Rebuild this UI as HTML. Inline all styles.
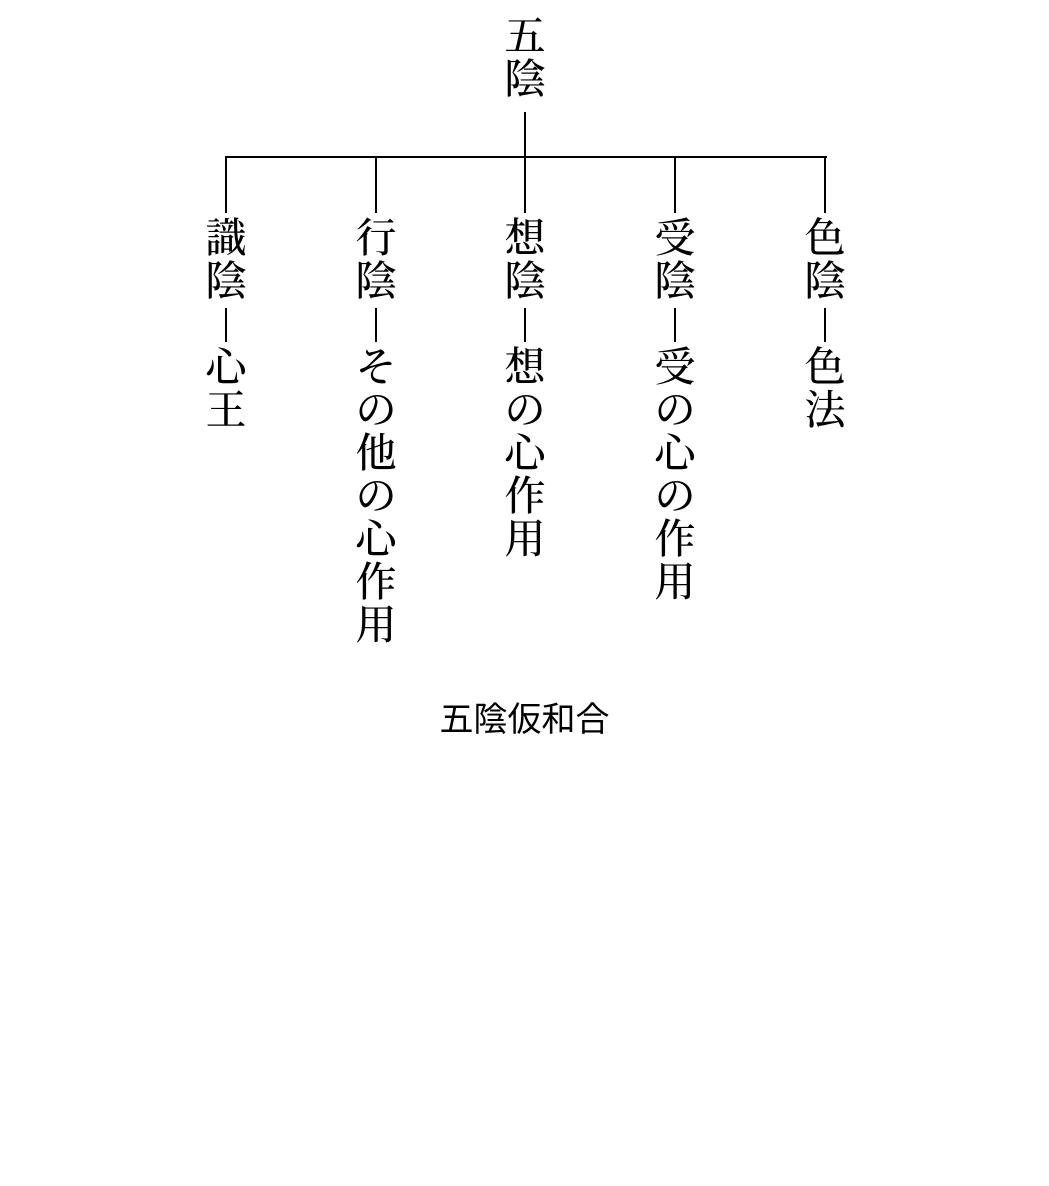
<!DOCTYPE html>
<html><head><meta charset="utf-8"><style>
html,body{margin:0;padding:0;background:#fff;}
body{width:1049px;height:1186px;position:relative;overflow:hidden;font-family:"Liberation Serif","Noto Serif CJK JP","Noto Serif CJK SC",serif;color:#000;}
.col{position:absolute;width:60px;text-align:center;font-size:41px;line-height:43px;font-weight:500;}
.l{position:absolute;background:#000;}
.cap{position:absolute;left:0;width:1049px;top:700px;text-align:center;font-size:34px;line-height:40px;font-family:"Liberation Sans","Noto Sans CJK JP",sans-serif;}
</style></head><body>
<div class="col" style="left:495px;top:15px">五<br>陰</div>
<div class="l" style="left:524px;top:112px;width:2px;height:46px"></div>
<div class="l" style="left:225px;top:156px;width:602px;height:2px"></div>
<div class="l" style="left:225px;top:156px;width:2px;height:57px"></div>
<div class="l" style="left:375px;top:156px;width:2px;height:57px"></div>
<div class="l" style="left:524px;top:156px;width:2px;height:57px"></div>
<div class="l" style="left:674px;top:156px;width:2px;height:57px"></div>
<div class="l" style="left:824px;top:156px;width:2px;height:57px"></div>

<div class="col" style="left:196px;top:217px">識<br>陰<br>&nbsp;<br>心<br>王</div>
<div class="l" style="left:225px;top:308px;width:2px;height:34px"></div>

<div class="col" style="left:346px;top:217px">行<br>陰<br>&nbsp;<br>そ<br>の<br>他<br>の<br>心<br>作<br>用</div>
<div class="l" style="left:375px;top:308px;width:2px;height:34px"></div>

<div class="col" style="left:495px;top:217px">想<br>陰<br>&nbsp;<br>想<br>の<br>心<br>作<br>用</div>
<div class="l" style="left:524px;top:308px;width:2px;height:34px"></div>

<div class="col" style="left:645px;top:217px">受<br>陰<br>&nbsp;<br>受<br>の<br>心<br>の<br>作<br>用</div>
<div class="l" style="left:674px;top:308px;width:2px;height:34px"></div>

<div class="col" style="left:795px;top:217px">色<br>陰<br>&nbsp;<br>色<br>法</div>
<div class="l" style="left:824px;top:308px;width:2px;height:34px"></div>

<div class="cap">五陰仮和合</div>
</body></html>
